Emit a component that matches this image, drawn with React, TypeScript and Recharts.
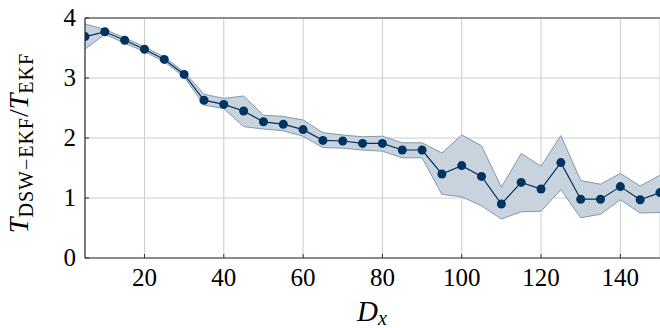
import { ComposedChart, Area, Line, XAxis, YAxis, CartesianGrid, ReferenceLine } from 'recharts'

// window sizes, D_x
const dxValues = [5, 10, 15, 20, 25, 30, 35, 40, 45, 50, 55, 60, 65, 70, 75, 80, 85, 90, 95, 100, 105, 110, 115, 120, 125, 130, 135, 140, 145, 150]
// mean runtime ratio
const ratioMean = [3.69, 3.77, 3.63, 3.48, 3.31, 3.06, 2.63, 2.56, 2.45, 2.27, 2.23, 2.14, 1.96, 1.95, 1.91, 1.91, 1.8, 1.8, 1.4, 1.54, 1.36, 0.9, 1.26, 1.15, 1.59, 0.98, 0.98, 1.19, 0.97, 1.09]
const ratioUpper = [3.9, 3.81, 3.67, 3.52, 3.35, 3.1, 2.73, 2.66, 2.7, 2.38, 2.36, 2.3, 2.09, 2.05, 2.02, 2.03, 1.92, 1.92, 1.75, 2.05, 1.87, 1.18, 1.74, 1.53, 2.04, 1.29, 1.23, 1.41, 1.2, 1.38]
const ratioLower = [3.48, 3.73, 3.58, 3.44, 3.27, 3.02, 2.55, 2.49, 2.19, 2.15, 2.12, 2.03, 1.84, 1.83, 1.8, 1.78, 1.67, 1.67, 1.06, 1.02, 0.87, 0.65, 0.77, 0.78, 1.14, 0.67, 0.73, 0.97, 0.75, 0.76]

const xTicks = [20, 40, 60, 80, 100, 120, 140]
const yTicks = [0, 1, 2, 3, 4]

const NAVY = '#00335f'
const FONT = '"Liberation Serif", "DejaVu Serif", serif'

const data = dxValues.map((dx, i) => ({
  dx,
  mean: ratioMean[i],
  band: [ratioLower[i], ratioUpper[i]]
}))

const renderXTick = (props: any) => {
  const { x, y, payload } = props
  return (
    <g key={`xt-${payload.value}`}>
      <line x1={x} x2={x} y1={y} y2={y - 4} stroke="#333" strokeWidth={1} />
      <text x={x} y={y + 28} textAnchor="middle" style={{ fontSize: 25, fontFamily: FONT }} fill="#000">
        {payload.value}
      </text>
    </g>
  )
}

const renderYTick = (props: any) => {
  const { x, y, payload } = props
  return (
    <g key={`yt-${payload.value}`}>
      <line x1={x} x2={x + 4} y1={y} y2={y} stroke="#333" strokeWidth={1} />
      <text x={x - 9} y={y + 8} textAnchor="end" style={{ fontSize: 25, fontFamily: FONT }} fill="#000">
        {payload.value}
      </text>
    </g>
  )
}

export default function App() {
  return (
    <div style={{ position: 'absolute', left: 0, top: 0, width: 660, height: 328, background: '#fff' }}>
      <ComposedChart width={660} height={328} data={data} margin={{ top: 18, right: 0, bottom: 0, left: 0 }}>
        <CartesianGrid stroke="#cccccc" strokeWidth={1} vertical horizontal />
        <XAxis
          dataKey="dx"
          type="number"
          domain={[5, 150]}
          ticks={xTicks}
          allowDataOverflow
          height={70}
          tickSize={0}
          tickMargin={0}
          tickLine={false}
          tick={renderXTick}
          axisLine={{ stroke: '#333', strokeWidth: 1.2 }}
        />
        <YAxis
          type="number"
          domain={[0, 4]}
          ticks={yTicks}
          width={85}
          tickSize={0}
          tickMargin={0}
          tickLine={false}
          tick={renderYTick}
          axisLine={{ stroke: '#333', strokeWidth: 1.2 }}
        />
        <ReferenceLine y={4} stroke="#333" strokeWidth={1.2} />
        <Area
          dataKey="band"
          type="linear"
          stroke="#7f98b0"
          strokeWidth={1}
          fill="#c9d3dd"
          fillOpacity={1}
          isAnimationActive={false}
        />
        <Line
          dataKey="mean"
          type="linear"
          stroke={NAVY}
          strokeWidth={1.2}
          dot={{ r: 4.5, fill: NAVY, stroke: NAVY, strokeWidth: 0 }}
          isAnimationActive={false}
        />
        <text
          transform="translate(28 143) rotate(-90)"
          textAnchor="middle"
          style={{ fontFamily: FONT }}
          fill="#000"
        >
          <tspan fontSize={28} fontStyle="italic">T</tspan>
          <tspan fontSize={20} dy={5} letterSpacing={1}>DSW−EKF</tspan>
          <tspan fontSize={28} dy={-5}>/</tspan>
          <tspan fontSize={28} fontStyle="italic">T</tspan>
          <tspan fontSize={20} dy={5} letterSpacing={1}>EKF</tspan>
        </text>
        <text x={372} y={321} textAnchor="middle" style={{ fontFamily: FONT }} fill="#000">
          <tspan fontSize={29} fontStyle="italic">D</tspan>
          <tspan fontSize={20} fontStyle="italic" dy={4}>x</tspan>
        </text>
      </ComposedChart>
    </div>
  )
}
